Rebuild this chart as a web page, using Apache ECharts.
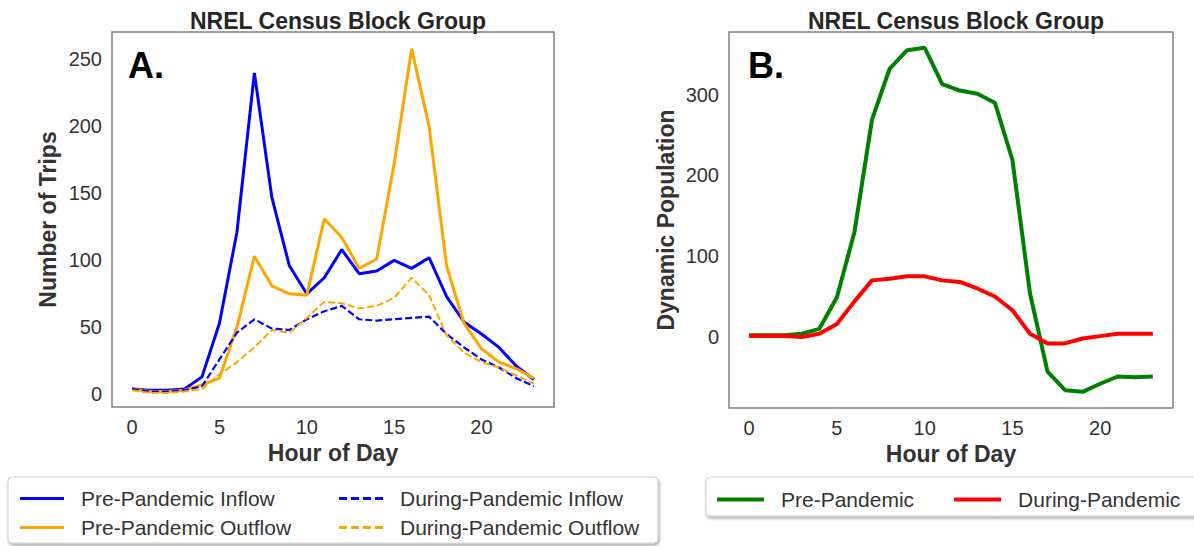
<!DOCTYPE html>
<html>
<head>
<meta charset="utf-8">
<script src="https://cdn.jsdelivr.net/npm/echarts@6/dist/echarts.min.js"></script>
<style>html,body{margin:0;padding:0;background:#fff;}#c{width:1194px;height:546px;}</style>
</head>
<body>
<div id="c"></div>
<script>
const hours = [0,1,2,3,4,5,6,7,8,9,10,11,12,13,14,15,16,17,18,19,20,21,22,23];
const xTicks = [0,5,10,15,20];
const yTicksA = [0,50,100,150,200,250];
const yTicksB = [0,100,200,300];

const preInflow     = [4,3,3,4,13,53,121,240,147,96,75,87,108,90,92,100,94,102,73,54,45,35,21,11];
const preOutflow    = [4,2,2,3,7,12,50,103,81,75,74,131,117,94,101,172,258,200,96,53,34,24,19,12];
const duringInflow  = [4,2,2,3,6,26,46,56,49,48,56,62,66,56,55,56,57,58,45,35,26,20,12,6];
const duringOutflow = [3,1,1,2,4,15,24,35,48,46,57,69,68,64,66,72,87,74,44,31,24,20,14,8];

const prePop    = [2,2,2,4,10,49,130,269,332,355,358,313,305,301,290,219,54,-43,-66,-68,-58,-49,-50,-49];
const duringPop = [1,1,1,0,4,16,44,70,72,75,75,70,68,60,50,33,4,-8,-8,-2,1,4,4,4];

const FONT = 'Liberation Sans';
const pairs = arr => hours.map((h,i)=>[h, arr[i]]);

const SOLID_ICON = 'path://M0,0h44v3h-44z';
const DASH_ICON = 'path://M0,0h8v3h-8z M12,0h8v3h-8z M24,0h8v3h-8z M36,0h8v3h-8z';

function xAxis(gridIndex){
  return {
    type:'value', gridIndex, min:-1.15, max:24.15,
    axisLine:{show:false}, axisTick:{show:false}, splitLine:{show:false},
    axisLabel:{customValues:xTicks, fontSize:20, color:'#333', fontFamily:FONT, margin:10},
    name:'Hour of Day', nameLocation:'middle', nameGap:34,
    nameTextStyle:{fontSize:23, fontWeight:'bold', color:'#333', fontFamily:FONT}
  };
}
function yAxis(gridIndex, min, max, ticks, name, gap){
  return {
    type:'value', gridIndex, min, max,
    axisLine:{show:false}, axisTick:{show:false}, splitLine:{show:false},
    axisLabel:{customValues:ticks, fontSize:20, color:'#333', fontFamily:FONT, margin:10},
    name, nameLocation:'middle', nameGap:gap,
    nameTextStyle:{fontSize:23, fontWeight:'bold', color:'#333', fontFamily:FONT}
  };
}
function line(name, data, color, width, dashed, xi){
  return {
    type:'line', name, data:pairs(data), xAxisIndex:xi, yAxisIndex:xi,
    symbol:'none', animation:false,
    lineStyle:{color, width, type: dashed ? [7,3] : 'solid'},
    itemStyle:{color}
  };
}
const legText = {fontSize:21, color:'#333', fontFamily:FONT, padding:[0,0,0,12]};

const chart = echarts.init(document.getElementById('c'), null, {renderer:'svg'});
chart.setOption({
  backgroundColor:'#fff',
  animation:false,
  title:[
    {text:'NREL Census Block Group', left:333, top:4, textAlign:'center',
     textStyle:{fontSize:23, fontWeight:'bold', color:'#262626', fontFamily:FONT}},
    {text:'NREL Census Block Group', left:951, top:4, textAlign:'center',
     textStyle:{fontSize:23, fontWeight:'bold', color:'#262626', fontFamily:FONT}},
    {text:'A.', left:123, top:42, textStyle:{fontSize:36, fontWeight:'bold', color:'#000', fontFamily:FONT}},
    {text:'B.', left:743, top:42, textStyle:{fontSize:36, fontWeight:'bold', color:'#000', fontFamily:FONT}}
  ],
  grid:[
    {left:112, top:32, width:442, height:375, show:true, borderColor:'#808080', borderWidth:1.5, backgroundColor:'#fff'},
    {left:729, top:32, width:444, height:376, show:true, borderColor:'#808080', borderWidth:1.5, backgroundColor:'#fff'}
  ],
  xAxis:[xAxis(0), xAxis(1)],
  yAxis:[
    yAxis(0, -9.5, 270.5, yTicksA, 'Number of Trips', 53),
    yAxis(1, -88, 377.5, yTicksB, 'Dynamic Population', 52)
  ],
  graphic:[
    {type:'rect', shape:{x:8, y:477, width:650, height:66, r:4}, z:-1,
     style:{fill:'#fff', stroke:'#d0d0d0', lineWidth:1, shadowBlur:3, shadowOffsetX:1, shadowOffsetY:2, shadowColor:'rgba(0,0,0,0.35)'}},
    {type:'rect', shape:{x:706, y:477, width:520, height:39, r:4}, z:-1,
     style:{fill:'#fff', stroke:'#d0d0d0', lineWidth:1, shadowBlur:3, shadowOffsetX:1, shadowOffsetY:2, shadowColor:'rgba(0,0,0,0.35)'}}
  ],
  legend:[
    {orient:'vertical', left:15, top:483, itemWidth:44, itemHeight:3, itemGap:8,
     data:[{name:'Pre-Pandemic Inflow', icon:SOLID_ICON},{name:'Pre-Pandemic Outflow', icon:SOLID_ICON}], textStyle:legText},
    {orient:'vertical', left:334, top:483, itemWidth:44, itemHeight:3, itemGap:8,
     data:[{name:'During-Pandemic Inflow', icon:DASH_ICON},{name:'During-Pandemic Outflow', icon:DASH_ICON}], textStyle:legText},
    {orient:'horizontal', left:712, top:484, itemWidth:47, itemHeight:4, itemGap:40,
     data:[{name:'Pre-Pandemic', icon:'path://M0,0h47v4h-47z'},{name:'During-Pandemic', icon:'path://M0,0h47v4h-47z'}], textStyle:legText}
  ],
  series:[
    line('Pre-Pandemic Inflow', preInflow, '#0000ff', 3, false, 0),
    line('Pre-Pandemic Outflow', preOutflow, '#ffa500', 3, false, 0),
    line('During-Pandemic Inflow', duringInflow, '#0000ff', 2.2, true, 0),
    line('During-Pandemic Outflow', duringOutflow, '#ffa500', 2, true, 0),
    line('Pre-Pandemic', prePop, '#008000', 4, false, 1),
    line('During-Pandemic', duringPop, '#ff0000', 4, false, 1)
  ]
});
</script>
</body>
</html>
